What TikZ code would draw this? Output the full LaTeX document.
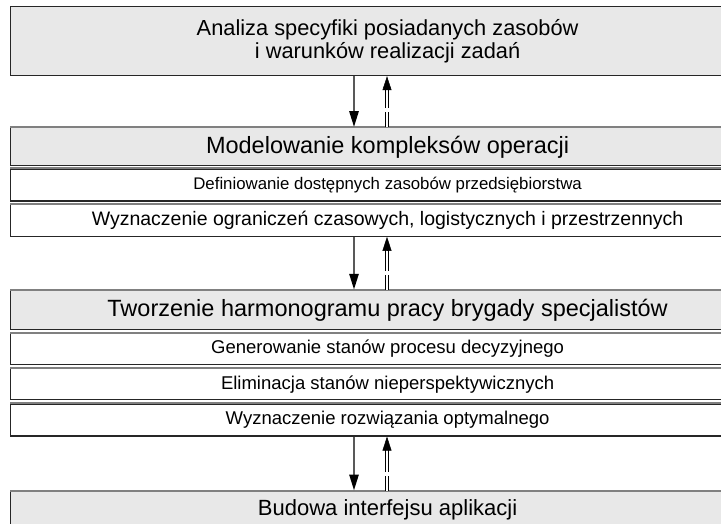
\documentclass[tikz,border=0pt]{standalone}
\usepackage{fontspec}
\setmainfont{Liberation Sans}
\usetikzlibrary{calc,positioning,arrows.meta}
\definecolor{bargray}{HTML}{E8E8E8}
\newcommand{\fsz}[1]{\fontsize{#1}{1.08\dimexpr#1pt\relax}\selectfont}
\tikzset{
  bar/.style={rectangle, draw=black!85, line width=1.2pt, minimum width=754pt, inner sep=0pt, align=center},
  headbar/.style={bar, fill=bargray, font=\fsz{23.5}},
  subbar/.style={bar, fill=white, minimum height=32pt, font=\fsz{18.5}},
  topedge/.style={draw=black!50, line width=2pt},
  fwd/.style={draw=black!65, line width=2.6pt, -{Triangle[length=16pt,width=9pt,color=black]}},
  backline/.style={draw=black, line width=0.7pt, double=white, double distance=2.4pt,
    dash pattern=on 15pt off 4pt on 40pt, shorten >=13pt},
  backtip/.style={draw=black, line width=0.5pt, shorten <=42pt, -{Triangle[length=14pt,width=9pt]}}
}

\begin{document}
\begin{tikzpicture}[x=1pt,y=-1pt]
  \path[use as bounding box, clip] (0,0) rectangle (721,524);

  % boxes
  \node[headbar, font=\fsz{21.8}, minimum height=69pt, anchor=north west] at (10,6) (analiza) {Analiza specyfiki posiadanych zasobów\\i warunków realizacji zadań};
  \node[headbar, minimum height=38pt, below=51pt of analiza] (model) {Modelowanie kompleksów operacji};
  \node[subbar, font=\fsz{16.8}, below=2pt of model] (defin) {Definiowanie dostępnych zasobów przedsiębiorstwa};
  \node[subbar, font=\fsz{19.5}, below=2pt of defin] (ogran) {Wyznaczenie ograniczeń czasowych, logistycznych i przestrzennych};
  \node[headbar, minimum height=39pt, below=53pt of ogran] (harmo) {Tworzenie harmonogramu pracy brygady specjalistów};
  \node[subbar, minimum height=31pt, below=3pt of harmo] (gener) {Generowanie stanów procesu decyzyjnego};
  \node[subbar, minimum height=31pt, below=3pt of gener] (elimi) {Eliminacja stanów nieperspektywicznych};
  \node[subbar, below=3pt of elimi] (optim) {Wyznaczenie rozwiązania optymalnego};
  \node[headbar, minimum height=50pt, below=54pt of optim] (budowa) {};
  \node[font=\fsz{22}, anchor=base] at ($(budowa.north)+(0,25)$) (budowa_label) {Budowa interfejsu aplikacji};

  \foreach \b in {model,defin,ogran,harmo,gener,elimi,optim,budowa}
  {
    \draw[topedge] (\b.north west) -- (\b.north east);
  }

  % arrows
  \coordinate (downx) at (354,0);
  \coordinate (upx) at (387,0);
  \foreach \a/\b in {analiza/model,ogran/harmo,optim/budowa}
  {
    \draw[fwd] (\a.south -| downx) -- (\b.north -| downx);
    \draw[backline] (\b.north -| upx) -- (\a.south -| upx);
    \draw[backtip] (\b.north -| upx) -- (\a.south -| upx);
  }
\end{tikzpicture}
\end{document}
